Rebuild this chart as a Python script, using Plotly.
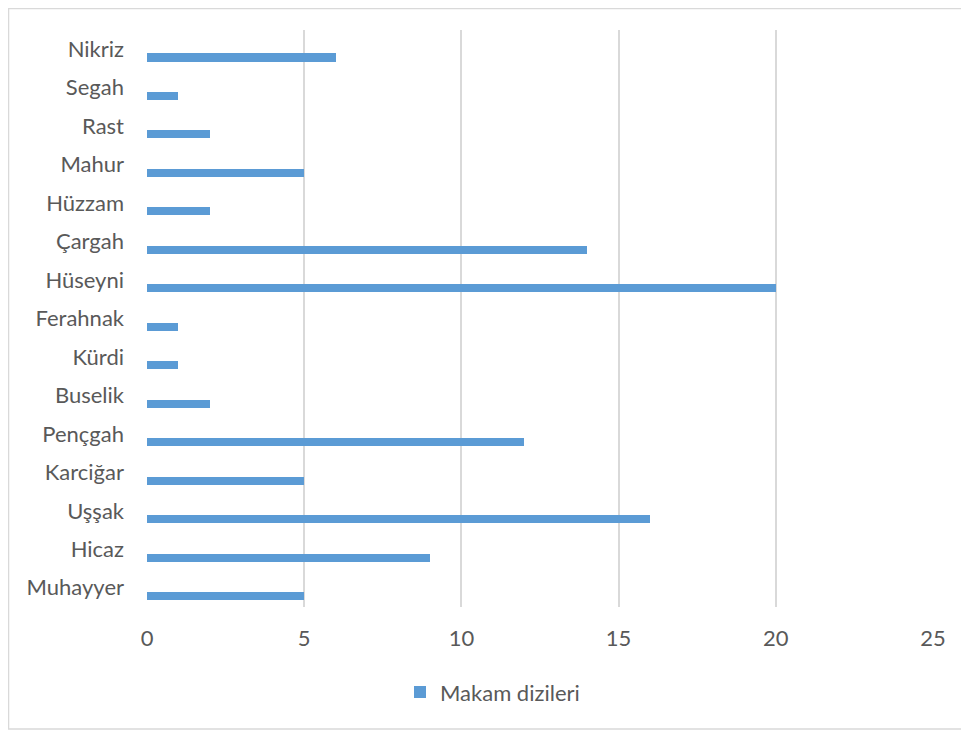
import plotly.graph_objects as go

# Makam dizileri (bottom to top as drawn)
makamlar = ['Muhayyer', 'Hicaz', 'Uşşak', 'Karciğar', 'Pençgah', 'Buselik', 'Kürdi',
            'Ferahnak', 'Hüseyni', 'Çargah', 'Hüzzam', 'Mahur', 'Rast', 'Segah', 'Nikriz']
sayilar = [5, 9, 16, 5, 12, 2, 1, 1, 20, 14, 2, 5, 2, 1, 6]
x_ticks = [0, 5, 10, 15, 20, 25]

bar_color = '#5B9BD5'
text_color = '#595959'
grid_color = '#D9D9D9'
font_name = 'Lato'
fsize = 22

fig = go.Figure()
fig.add_trace(go.Bar(
    y=makamlar, x=sayilar, orientation='h', name='Makam dizileri',
    marker=dict(color=bar_color, line=dict(width=0)),
    width=0.21, offset=-0.32,
))

fig.update_layout(
    width=969, height=731,
    margin=dict(l=139, r=44, t=22, b=132),
    paper_bgcolor='white', plot_bgcolor='white',
    font=dict(family=font_name, size=fsize, color=text_color),
    showlegend=True,
    legend=dict(orientation='h', xref='container', yref='container',
                x=0.5, y=0.064, xanchor='center', yanchor='middle',
                font=dict(size=fsize, color=text_color), itemwidth=30),
    bargap=0,
)

fig.update_xaxes(range=[0, 25], tickvals=x_ticks, showgrid=True, gridcolor=grid_color,
                 gridwidth=1.5, zeroline=False, showline=False, ticks='',
                 ticklabelstandoff=16, tickfont=dict(size=fsize, color=text_color))
fig.update_yaxes(range=[-0.5, 14.5], showgrid=False, zeroline=False, showline=False,
                 ticks='', ticklabelstandoff=22, tickfont=dict(size=fsize, color=text_color))

# outer chart border
fig.add_shape(type='rect', xref='paper', yref='paper',
              x0=-0.1762, x1=1.0407, y0=-0.2114, y1=1.0373,
              line=dict(color=grid_color, width=1.5), fillcolor='rgba(0,0,0,0)', layer='below')

fig.write_html('out.html')
